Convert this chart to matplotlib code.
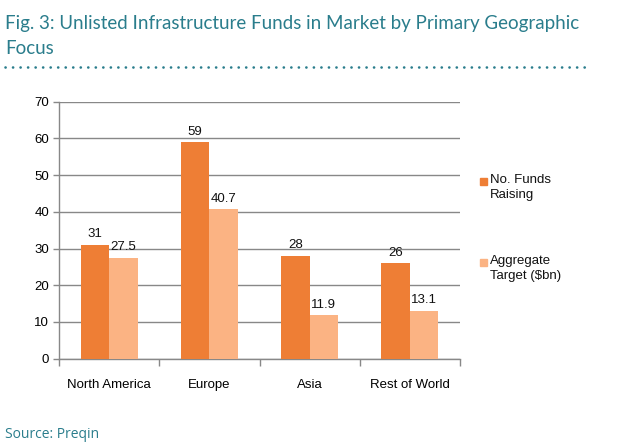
import matplotlib
matplotlib.use("Agg")
import matplotlib.pyplot as plt
from matplotlib.lines import Line2D
from matplotlib.patches import Rectangle
import numpy as np

categories = ["North America", "Europe", "Asia", "Rest of World"]
series_names = ["No. Funds\nRaising", "Aggregate\nTarget ($bn)"]
funds_raising = [31, 59, 28, 26]
aggregate_target = [27.5, 40.7, 11.9, 13.1]
value_labels_1 = ["31", "59", "28", "26"]
value_labels_2 = ["27.5", "40.7", "11.9", "13.1"]
y_ticks = [0, 10, 20, 30, 40, 50, 60, 70]

c_dark = "#EE7E35"
c_light = "#FBB383"
teal = "#2A7D8C"

plt.rcParams["font.family"] = ["Liberation Sans", "DejaVu Sans"]

fig = plt.figure(figsize=(6.18, 4.45), dpi=100)
ax = fig.add_axes([59/618, 1-358.6/445, (460-59)/618, (358.6-101.7)/445])

x = np.arange(len(categories))
w = 0.285
b1 = ax.bar(x - w/2, funds_raising, w, color=c_dark, zorder=3)
b2 = ax.bar(x + w/2, aggregate_target, w, color=c_light, zorder=3)
for rect, lab in zip(b1, value_labels_1):
    ax.text(rect.get_x() + rect.get_width()/2, rect.get_height() + 1.2, lab,
            ha="center", va="bottom", fontsize=9.5, color="#111111")
for rect, lab in zip(b2, value_labels_2):
    ax.text(rect.get_x() + rect.get_width()/2, rect.get_height() + 1.2, lab,
            ha="center", va="bottom", fontsize=9.5, color="#111111")

ax.set_xlim(-0.5, len(categories) - 0.5)
ax.set_ylim(0, 70)
ax.set_yticks(y_ticks)
ax.set_yticklabels([str(t) for t in y_ticks], fontsize=9.5)
ax.set_xticks(x)
ax.set_xticklabels(categories, fontsize=9.5)
ax.tick_params(axis="x", length=0, pad=15)
ax.set_xticks(np.arange(len(categories) + 1) - 0.5, minor=True)
ax.tick_params(axis="x", which="minor", length=5, color="#888888", width=1)
ax.tick_params(axis="y", length=4, color="#888888", width=1, pad=3)
ax.yaxis.grid(True, color="#888888", linewidth=1, zorder=0)
for s in ["top", "right"]:
    ax.spines[s].set_visible(False)
for s in ["left", "bottom"]:
    ax.spines[s].set_color("#888888")
    ax.spines[s].set_linewidth(1)
ax.set_axisbelow(True)

# legend (manual)
leg_y = [181, 262]
for name, col, yy in zip(series_names, [c_dark, c_light], leg_y):
    fig.patches.append(Rectangle((480/618, 1-(yy+4)/445), 7/618, 7/445,
                                 transform=fig.transFigure, color=col))
    fig.text(490/618, 1-(yy-7)/445, name, fontsize=9.5, va="top", ha="left",
             linespacing=1.3, color="#111111")

# title
tfam = ["Lato", "DejaVu Sans"]
fig.text(5/618, 1-29/445, "Fig. 3: Unlisted Infrastructure Funds in Market by Primary Geographic",
         fontsize=13.5, color=teal, family=tfam, va="baseline")
fig.text(5/618, 1-54/445, "Focus", fontsize=13.5, color=teal,
         family=tfam, va="baseline")
fig.lines.append(Line2D([5/618, 590/618], [1-67/445, 1-67/445], transform=fig.transFigure,
                        color=teal, linewidth=1.9, linestyle=(0, (0.05, 2.8)),
                        dash_capstyle="round"))

fig.text(5/618, 1-434/445, "Source: Preqin", fontsize=10, color=teal,
         family=["Open Sans", "DejaVu Sans"], va="center")

fig.savefig("out.png", dpi=100, facecolor="white")
